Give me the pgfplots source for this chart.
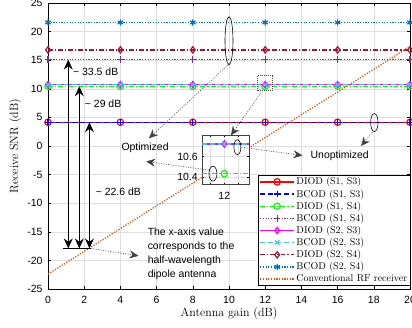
\documentclass[border=0pt]{standalone}
\usepackage{fontspec}
\usepackage{pgfplots}
\pgfplotsset{compat=1.18}
\usetikzlibrary{arrows.meta}
\newfontfamily\helv{Liberation Sans}
\definecolor{mred}{rgb}{1,0,0}
\definecolor{mblue}{rgb}{0,0,1}
\definecolor{mgreen}{rgb}{0,1,0}
\definecolor{mpurple}{rgb}{0.494,0.184,0.556}
\definecolor{mmag}{rgb}{1,0,1}
\definecolor{mlblue}{rgb}{0.302,0.745,0.933}
\definecolor{mdred}{rgb}{0.635,0.078,0.184}
\definecolor{mdblue}{rgb}{0,0.447,0.741}
\definecolor{morange}{rgb}{0.85,0.325,0.098}
\pgfplotsset{
  pl/.style={line width=1.3pt, mark size=3.2pt, mark options={solid, line width=1.2pt}},
  mdashed/.style={dash pattern=on 5pt off 3pt},
  mdashdot/.style={dash pattern=on 5pt off 2pt on 1.2pt off 2pt},
  mdotted/.style={dash pattern=on 1.2pt off 1.5pt},
}
\tikzset{
  bigarrow/.tip={Stealth[length=10bp,width=9bp,inset=3.5bp]},
  ann/.style={line width=0.6pt, dash pattern=on 1pt off 1.5pt, draw=black!75, -{Stealth[length=9bp,width=8bp,inset=3bp]}},
  annfont/.style={font=\helv\fontsize{10.5}{14.3}\selectfont},
}
\begin{document}
\begin{tikzpicture}
\begin{axis}[
  at={(0,0)}, anchor=south west,
  scale only axis, width=362bp, height=286bp,
  xmin=0, xmax=20, ymin=-25, ymax=25,
  xtick={0,2,...,20}, ytick={-25,-20,...,25},
  grid=major, grid style={black!13, line width=0.5pt},
  tick align=inside, major tick length=3bp,
  tick style={black, line width=0.5pt},
  tick label style={font=\helv\fontsize{10.5}{12}\selectfont},
  xticklabel style={yshift=-4bp},
  yticklabel style={xshift=-2bp},
  /pgf/number format/assume math mode=true,
  axis line style={line width=0.6pt},
  xlabel={Antenna gain (dB)}, ylabel={Receive SNR (dB)},
  label style={font=\fontsize{12}{14}\selectfont},
  xlabel style={at={(axis description cs:0.5,-0.0874)}, anchor=center},
  ylabel style={at={(axis description cs:-0.091,0.5)}, anchor=center},
  clip mode=individual,
  legend cell align=left,
  legend style={at={(axis description cs:1,0.0105)}, anchor=south east,
    font=\fontsize{10}{12}\selectfont, draw=black, line width=0.5pt, fill=white,
    inner xsep=1pt, inner ysep=1pt, nodes={inner sep=1.6pt}},
  legend image code/.code={\draw[mark repeat=2,mark phase=2,#1] plot coordinates {(0bp,0bp) (17bp,0bp) (34bp,0bp)};},
]
\addplot[pl, mred, mark=o] coordinates {(0,4.15) (4,4.15) (8,4.15) (12,4.15) (16,4.15) (20,4.15)};
\addlegendentry{DIOD (S1, S3)}
\addplot[pl, mblue, mdashed, mark=+] coordinates {(0,4.15) (4,4.15) (8,4.15) (12,4.15) (16,4.15) (20,4.15)};
\addlegendentry{BCOD (S1, S3)}
\addplot[pl, mgreen, mdashdot, mark=o] coordinates {(0,10.44) (4,10.44) (8,10.44) (12,10.44) (16,10.44) (20,10.44)};
\addlegendentry{DIOD (S1, S4)}
\addplot[pl, mpurple, mdotted, mark=+] coordinates {(0,15.1) (4,15.1) (8,15.1) (12,15.1) (16,15.1) (20,15.1)};
\addlegendentry{BCOD (S1, S4)}
\addplot[pl, mmag, mark=diamond] coordinates {(0,10.72) (4,10.72) (8,10.72) (12,10.72) (16,10.72) (20,10.72)};
\addlegendentry{DIOD (S2, S3)}
\addplot[pl, mlblue, mdashed, mark=x] coordinates {(0,10.72) (4,10.72) (8,10.72) (12,10.72) (16,10.72) (20,10.72)};
\addlegendentry{BCOD (S2, S3)}
\addplot[pl, mdred, mdashdot, mark=diamond] coordinates {(0,16.8) (4,16.8) (8,16.8) (12,16.8) (16,16.8) (20,16.8)};
\addlegendentry{DIOD (S2, S4)}
\addplot[pl, mdblue, mdotted, mark=asterisk] coordinates {(0,21.6) (4,21.6) (8,21.6) (12,21.6) (16,21.6) (20,21.6)};
\addlegendentry{BCOD (S2, S4)}
\addplot[pl, morange, mdotted, no marks] coordinates {(0,-22.4) (4,-14.44) (8,-6.48) (12,1.48) (16,9.44) (20,17.4)};
\addlegendentry{Conventional RF receiver}

% double arrows
\draw[line width=0.8pt, {bigarrow}-{bigarrow}] (axis cs:1.12,-17.9) -- (axis cs:1.12,15.1);
\draw[line width=0.8pt, {bigarrow}-{bigarrow}] (axis cs:1.73,-17.9) -- (axis cs:1.73,10.44);
\draw[line width=0.8pt, {bigarrow}-{bigarrow}] (axis cs:2.29,-17.9) -- (axis cs:2.29,4.15);
\draw[line width=0.8pt] (axis cs:0.85,-17.9) -- (axis cs:2.36,-17.9);
\node[annfont, anchor=west, inner sep=0pt] at (axis cs:1.38,13.0) {\textasciitilde{} 33.5 dB};
\node[annfont, anchor=west, inner sep=0pt] at (axis cs:2.03,7.3) {\textasciitilde{} 29 dB};
\node[annfont, anchor=west, inner sep=0pt] at (axis cs:2.63,-8.0) {\textasciitilde{} 22.6 dB};
\draw[ann] (axis cs:2.36,-17.9) -- (axis cs:5.0,-19.2);
\node[annfont, anchor=north west, inner sep=0pt, align=left] at (axis cs:5.5,-14.2)
  {The x-axis value\\corresponds to the\\half-wavelength\\dipole antenna};
% ellipses and optimized/unoptimized
\draw[line width=0.6pt] (axis cs:10,18.4) ellipse [x radius=4bp, y radius=24bp];
\draw[ann] (axis cs:9.95,14.2) -- (axis cs:5.58,1.35);
\node[annfont, anchor=west, inner sep=0pt] at (axis cs:4.05,-0.3) {Optimized};
\draw[line width=0.6pt] (axis cs:18.03,4.1) ellipse [x radius=3.7bp, y radius=9bp];
\draw[ann] (axis cs:17.95,2.5) -- (axis cs:17.3,0.0);
\node[annfont, anchor=west, inner sep=0pt] at (axis cs:14.5,-1.75) {Unoptimized};
\draw[line width=0.5pt, draw=black!70, dash pattern=on 1pt off 1pt] (axis cs:11.55,9.7) rectangle (axis cs:12.4,12.4);
\draw[ann] (axis cs:11.85,9.7) -- (axis cs:10.11,1.87);
\end{axis}

\begin{axis}[
  at={(154.3bp,104.3bp)}, anchor=south west,
  scale only axis, width=47bp, height=49.4bp,
  xmin=11.845, xmax=12.176, ymin=10.329, ymax=10.804,
  axis background/.style={fill=white},
  xtick={11.9,12,12.1}, xticklabels={,12,},
  ytick={10.4,10.6}, yticklabels={10.4,10.6},
  grid=major, grid style={black!13, line width=0.5pt},
  tick align=inside, major tick length=2bp,
  tick style={black, line width=0.5pt},
  tick label style={font=\helv\fontsize{10.5}{12}\selectfont},
  xticklabel style={yshift=-4bp},
  yticklabel style={xshift=-1bp},
  /pgf/number format/assume math mode=true,
  axis line style={line width=0.6pt, black!75},
  clip=false,
]
\addplot[pl, mgreen, mdashdot, mark=o, mark indices={2}] coordinates {(11.845,10.435) (12,10.435) (12.176,10.435)};
\addplot[pl, mmag, mark=diamond, mark indices={2}] coordinates {(11.845,10.72) (12,10.72) (12.176,10.72)};
\addplot[pl, mlblue, mdashed, mark=x, mark indices={2}] coordinates {(11.845,10.72) (12,10.72) (12.176,10.72)};
\draw[line width=0.6pt] (axis cs:12.092,10.69) ellipse [x radius=3.5bp, y radius=7.5bp];
\draw[line width=0.6pt] (axis cs:11.92,10.435) ellipse [x radius=4bp, y radius=7.5bp];
\draw[ann] (axis cs:12.12,10.69) -- (axis cs:12.55,10.61);
\draw[ann] (axis cs:11.89,10.47) -- (axis cs:11.45,10.552);
\end{axis}
\pgfresetboundingbox
\path[use as bounding box] (-48bp,-39bp) rectangle (364bp,289bp);
\end{tikzpicture}
\end{document}
